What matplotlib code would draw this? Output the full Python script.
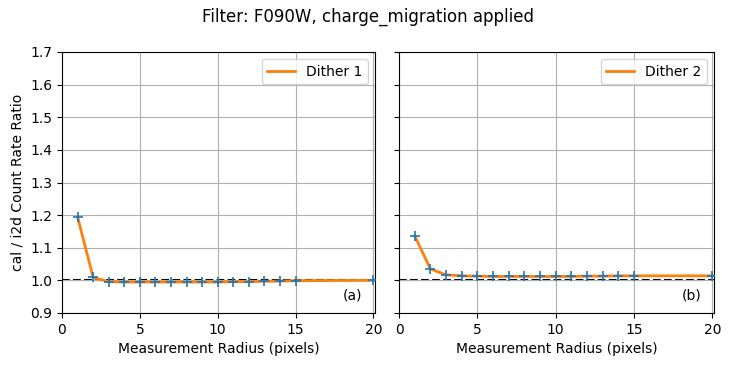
import matplotlib
matplotlib.use("Agg")
import matplotlib.pyplot as plt

radius = [1, 2, 3, 4, 5, 6, 7, 8, 9, 10, 11, 12, 13, 14, 15, 20]
ratio_d1 = [1.195, 1.009, 0.996, 0.995, 0.995, 0.995, 0.995, 0.995, 0.995,
            0.995, 0.996, 0.996, 0.997, 0.998, 0.999, 1.000]
ratio_d2 = [1.137, 1.035, 1.017, 1.014, 1.013, 1.012, 1.012, 1.012, 1.012,
            1.012, 1.012, 1.013, 1.013, 1.014, 1.014, 1.014]
labels = ["Dither 1", "Dither 2"]
panel_tags = ["(a)", "(b)"]
title = "Filter: F090W, charge_migration applied"

fig = plt.figure(figsize=(7.36, 3.68), dpi=100)
ax1 = fig.add_axes([62/736, 1-313/368, 313/736, 261/368])
ax2 = fig.add_axes([399/736, 1-313/368, 315/736, 261/368], sharey=ax1)

for ax, y, lab, tag in zip([ax1, ax2], [ratio_d1, ratio_d2], labels, panel_tags):
    ax.plot(radius, y, color="C1", lw=2, label=lab, zorder=2)
    ax.plot(radius, y, "+", color="C0", ms=6.5, mew=1.2, zorder=3)
    ax.axhline(1.0, color="k", ls="--", lw=1.5, zorder=1.5)
    ax.grid(True, color="#b0b0b0", lw=0.8)
    ax.set_xlim(0, 20.1)
    ax.set_ylim(0.9, 1.7)
    ax.set_xlabel("Measurement Radius (pixels)")
    ax.legend(loc="upper right")
    ax.text(0.96, 0.04, tag, transform=ax.transAxes, ha="right", va="bottom")

ax1.set_ylabel("cal / i2d Count Rate Ratio")
ax2.tick_params(labelleft=False)
fig.suptitle(title, y=0.978, fontsize=12)
fig.savefig("out.png", dpi=100)
